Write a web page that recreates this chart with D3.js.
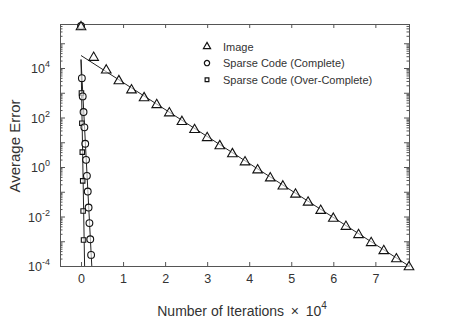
<!DOCTYPE html>
<html>
<head>
<meta charset="utf-8">
<script src="https://cdn.jsdelivr.net/npm/d3@7"></script>
<style>
  body { margin: 0; background: #fff; }
  text { font-family: "Liberation Sans", Arial, sans-serif; fill: #333; }
</style>
</head>
<body>
<div id="chart"></div>
<script>
// x values are in units of 10^4 iterations
let imageX = [0, 0.3, 0.6, 0.9, 1.2, 1.5, 1.8, 2.1, 2.4, 2.7, 3.0, 3.3, 3.6, 3.9, 4.2, 4.5, 4.8, 5.1, 5.4, 5.7, 6.0, 6.3, 6.6, 6.9, 7.2, 7.5, 7.8];
let imageY = [5e5, 2.9e4, 8.9e3, 3.3e3, 1.4e3, 680, 355, 166, 74, 35, 16.6, 7.8, 3.7, 1.74, 0.82, 0.39, 0.183, 0.086, 0.041, 0.019, 0.0091, 0.0043, 0.002, 0.00095, 0.00045, 0.00021, 0.0001];

let completeX = [0, 0.02, 0.04, 0.06, 0.08, 0.10, 0.12, 0.14, 0.16, 0.18, 0.20, 0.22, 0.24];
let completeY = [5e5, 3.9e3, 710, 166, 40, 8.7, 1.95, 0.44, 0.102, 0.023, 0.0054, 0.0012, 0.00028];

let overX = [0, 0.01, 0.02, 0.03, 0.04, 0.05, 0.06];
let overY = [5e5, 980, 59, 4.0, 0.275, 0.0166, 0.00112];

// fitted lines, [x, y] end points
let imageFit = [[0, 3.2e4], [7.8, 1e-4]];
let completeFit = [[0, 2.2e4], [0.256, 1e-4]];
let overFit = [[0, 2.2e4], [0.085, 1e-4]];

let xTicks = [0, 1, 2, 3, 4, 5, 6, 7];
let yLabelExps = [-4, -2, 0, 2, 4];
let legendNames = ["Image", "Sparse Code (Complete)", "Sparse Code (Over-Complete)"];

let width = 460, height = 324;
let margin = {left: 60, right: 51, top: 24, bottom: 58};
let plotW = width - margin.left - margin.right;
let plotH = height - margin.top - margin.bottom;

let svg = d3.select("#chart").append("svg")
    .attr("width", width).attr("height", height);

let xScale = d3.scaleLinear().domain([-0.5, 7.8]).range([0, plotW]);
let yScale = d3.scaleLog().domain([1e-4, 6e5]).range([plotH, 0]);

let g = svg.append("g").attr("transform", `translate(${margin.left},${margin.top})`);

let axisColor = "#555";

// log ticks: major every decade, minor 2..9
let majorY = d3.range(-4, 6).map(e => Math.pow(10, e));
let minorY = [];
for (let e = -4; e < 6; e++) {
    for (let m = 2; m <= 9; m++) {
        let v = m * Math.pow(10, e);
        if (v <= 6e5) minorY.push(v);
    }
}

// bottom and top axes, ticks pointing inward
let bottomAxis = d3.axisBottom(xScale).tickValues(xTicks).tickSize(-4).tickPadding(8).tickFormat(d3.format("d"));
let topAxis = d3.axisTop(xScale).tickValues(xTicks).tickSize(-4).tickFormat("");

g.append("g").attr("transform", `translate(0,${plotH})`).call(bottomAxis);
g.append("g").call(topAxis);

let leftMajor = d3.axisLeft(yScale).tickValues(majorY).tickSize(-5).tickFormat("");
let leftMinor = d3.axisLeft(yScale).tickValues(minorY).tickSize(-2.5).tickFormat("");
let rightMajor = d3.axisRight(yScale).tickValues(majorY).tickSize(-5).tickFormat("");
let rightMinor = d3.axisRight(yScale).tickValues(minorY).tickSize(-2.5).tickFormat("");

g.append("g").call(leftMajor);
g.append("g").call(leftMinor);
g.append("g").attr("transform", `translate(${plotW},0)`).call(rightMajor);
g.append("g").attr("transform", `translate(${plotW},0)`).call(rightMinor);

g.selectAll(".domain").attr("stroke", axisColor);
g.selectAll(".tick line").attr("stroke", axisColor);
g.selectAll(".tick text").attr("font-size", 12.5).attr("fill", "#333")
    .attr("font-family", "Liberation Sans, Arial, sans-serif");

// y labels 10^n
let yLab = g.append("g");
yLabelExps.forEach(function(e) {
    let t = yLab.append("text")
        .attr("x", -10)
        .attr("y", yScale(Math.pow(10, e)) + 5)
        .attr("text-anchor", "end")
        .attr("font-size", 12.5);
    t.append("tspan").text("10");
    t.append("tspan").attr("dy", -6).attr("font-size", 9).text(e);
});

// fitted lines
let line = d3.line().x(d => xScale(d[0])).y(d => yScale(d[1]));
[imageFit, completeFit, overFit].forEach(function(f) {
    g.append("path").attr("d", line(f))
        .attr("fill", "none").attr("stroke", "#222").attr("stroke-width", 1);
});

// markers
let triangle = d3.symbol().type(d3.symbolTriangle).size(40);
let circle = d3.symbol().type(d3.symbolCircle).size(36);
let square = d3.symbol().type(d3.symbolSquare).size(20);

function drawMarkers(xs, ys, sym, cls) {
    g.selectAll("." + cls)
        .data(xs.map((x, i) => [x, ys[i]]))
        .join("path")
        .attr("class", cls)
        .attr("d", sym)
        .attr("transform", d => `translate(${xScale(d[0])},${yScale(d[1]) + (cls === "image" ? 1 : 0)})`)
        .attr("fill", "#fff").attr("fill-opacity", 0.6)
        .attr("stroke", "#111").attr("stroke-width", 1.1);
}
drawMarkers(overX, overY, square, "over");
drawMarkers(completeX, completeY, circle, "complete");
drawMarkers(imageX, imageY, triangle, "image");

// legend
let legend = g.append("g").attr("transform", "translate(147,22.5)");
let legendSyms = [
    d3.symbol().type(d3.symbolTriangle).size(22),
    d3.symbol().type(d3.symbolCircle).size(22),
    d3.symbol().type(d3.symbolSquare).size(14)
];
legendNames.forEach(function(name, i) {
    legend.append("path").attr("d", legendSyms[i]())
        .attr("transform", `translate(0,${i * 16.6})`)
        .attr("fill", "#fff").attr("stroke", "#111").attr("stroke-width", 1.2);
    legend.append("text").attr("x", 16).attr("y", i * 16.6 + 4)
        .attr("font-size", 11).text(name);
});

// axis titles
let xt = svg.append("text")
    .attr("x", 242).attr("y", 316)
    .attr("text-anchor", "middle").attr("font-size", 14);
xt.append("tspan").text("Number of Iterations \u2009\u00d7\u2009 10");
xt.append("tspan").attr("dy", -7).attr("font-size", 10).text("4");

svg.append("text")
    .attr("transform", "translate(20,146) rotate(-90)")
    .attr("text-anchor", "middle").attr("font-size", 15)
    .text("Average Error");
</script>
</body>
</html>
